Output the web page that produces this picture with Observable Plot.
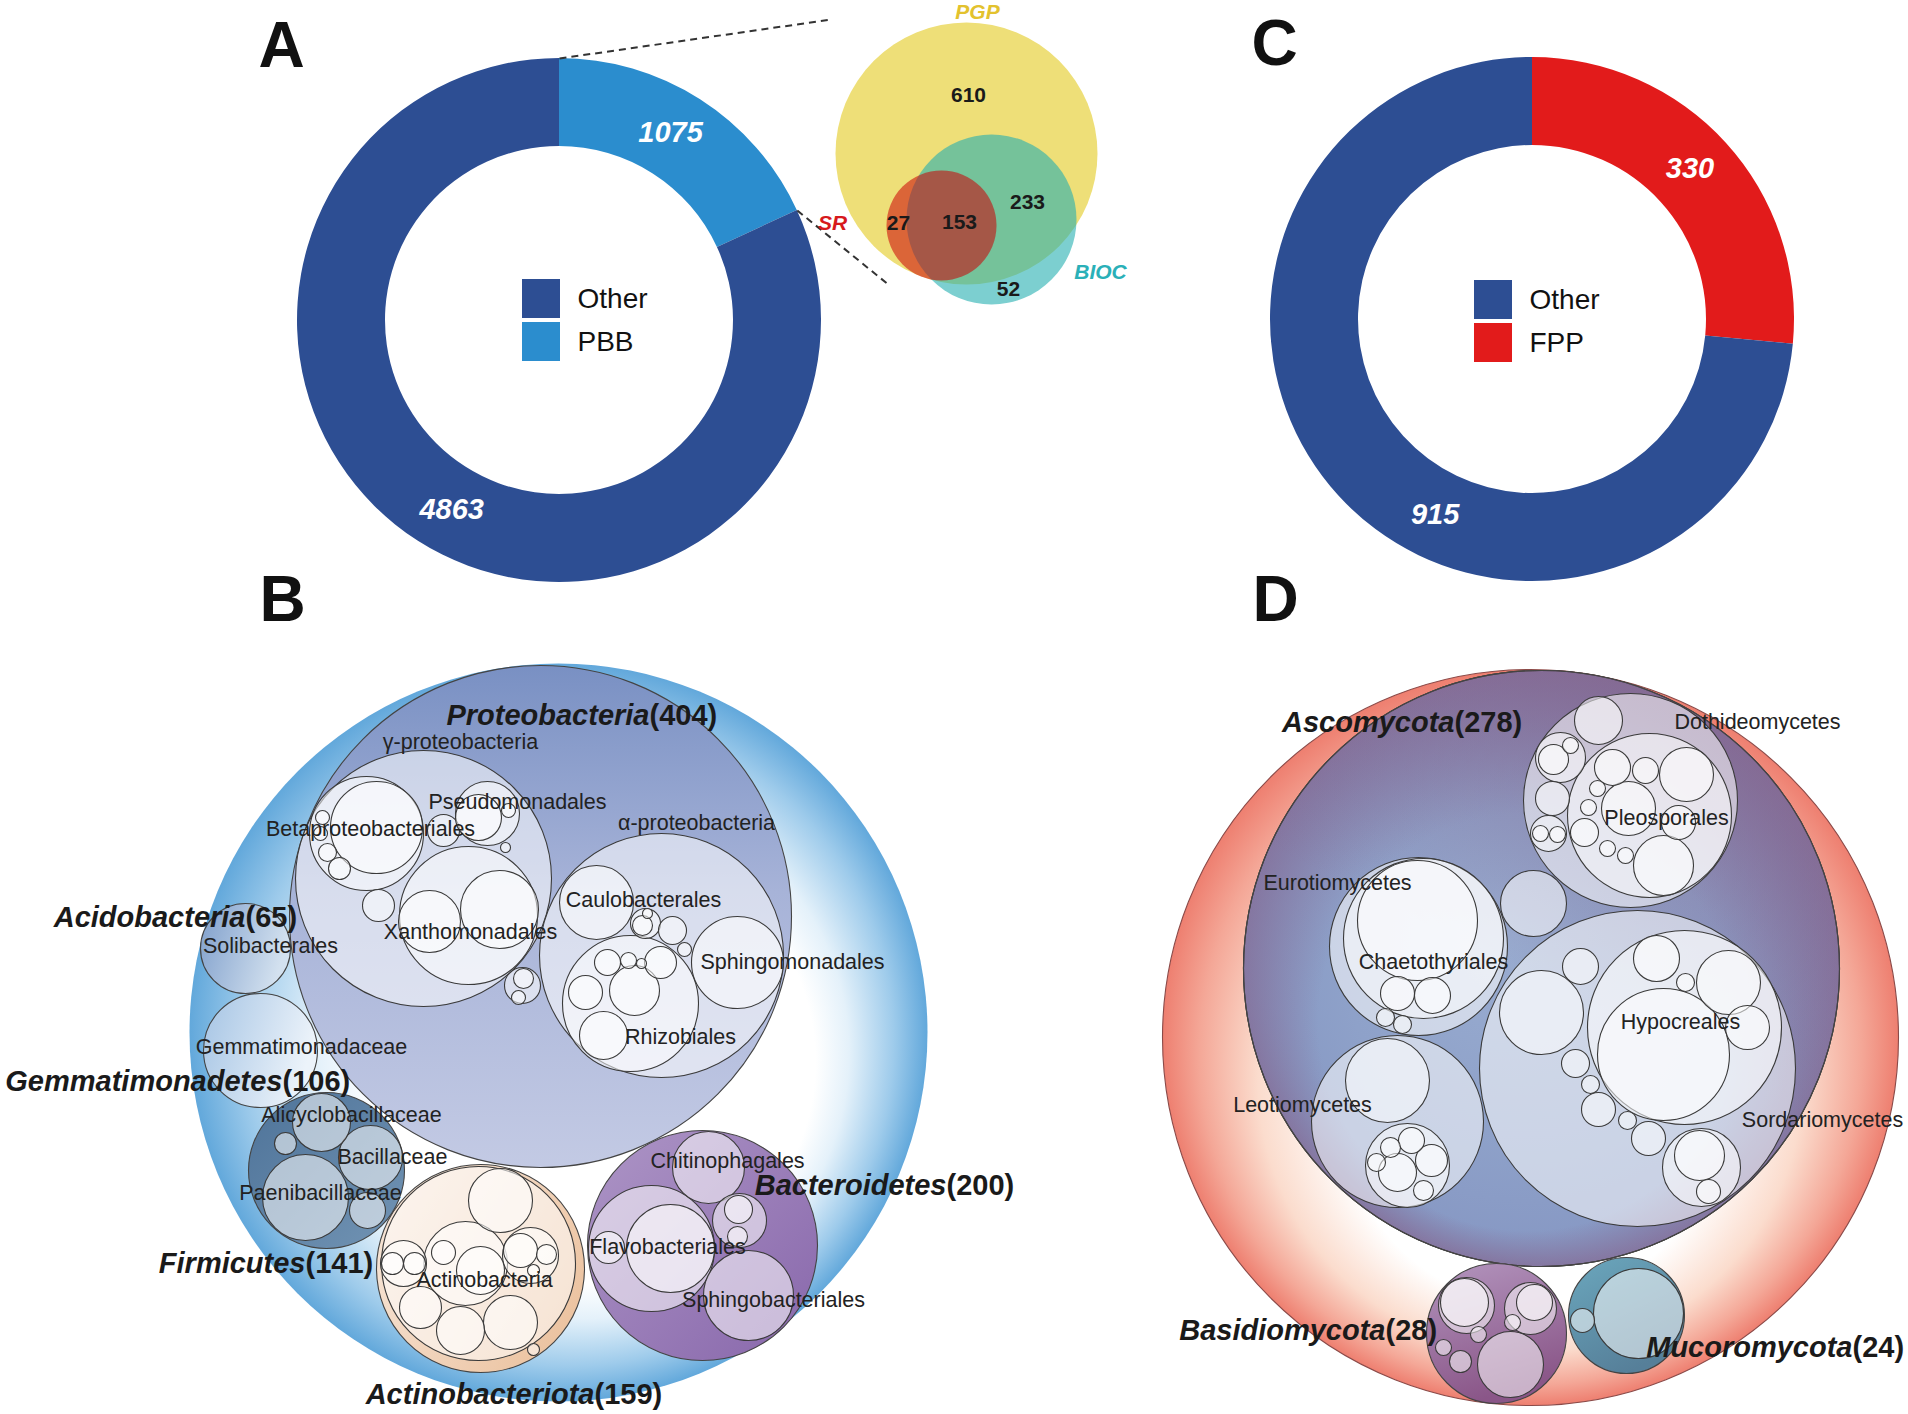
<!DOCTYPE html>
<html><head><meta charset="utf-8">
<script src="https://cdn.jsdelivr.net/npm/d3@7"></script>
<script src="https://cdn.jsdelivr.net/npm/@observablehq/plot@0.6"></script>
<style>html,body{margin:0;padding:0;background:#fff}#chart svg{display:block}</style>
</head><body><div id="chart"></div>
<script>
// ================= DATA =================
// Donut A
const donutACategories = ["PBB", "Other"];
const donutAValues = [1075, 4863];
// Donut C
const donutCCategories = ["FPP", "Other"];
const donutCValues = [330, 915];
const legendOrderA = ["Other", "PBB"];
const legendOrderC = ["Other", "FPP"];

// Venn (sets and region counts)
const vennSets = ["PGP", "BIOC", "SR"];
const vennCircleX = [966, 991, 941];
const vennCircleY = [153, 219, 225];
const vennCircleR = [131, 85, 55];
const vennCounts = [610, 233, 27, 153, 52];
const vennCountX = [968, 1027, 898, 959, 1008];
const vennCountY = [95, 202, 223, 222, 289];
const vennSetLabelX = [977, 1100, 832];
const vennSetLabelY = [12, 272, 223];
const vennLinkEnds = [[831, 19], [889, 285]];

// Circle packing B (bacteria): [name, depth, x, y, r]
const bacteriaNodes = [
  ["Bacteria", 0, 558, 1032, 369],
  ["Proteobacteria", 1, 540, 916, 251],
  ["Acidobacteria", 1, 245, 948, 45],
  ["Gemmatimonadetes", 1, 260, 1050, 57],
  ["Firmicutes", 1, 326, 1170, 78],
  ["Actinobacteriota", 1, 480, 1268, 104],
  ["Bacteroidetes", 1, 702, 1245, 115],
  ["γ-proteobacteria", 2, 423, 878, 128],
  ["α-proteobacteria", 2, 661, 955, 122],
  ["", 2, 522, 985, 18],
  ["Actinobacteria", 2, 478, 1263, 97],
  ["", 2, 533, 1349, 6],
  ["Chitinophagales", 2, 708, 1167, 36],
  ["Flavobacteriales", 2, 651, 1248, 63],
  ["", 2, 739, 1220, 27],
  ["Sphingobacteriales", 2, 748, 1295, 45],
  ["Alicyclobacillaceae", 2, 321, 1122, 29],
  ["", 2, 285, 1143, 11],
  ["Bacillaceae", 2, 370, 1157, 32],
  ["Paenibacillaceae", 2, 305, 1197, 43],
  ["", 2, 367, 1210, 18],
  ["Betaproteobacteriales", 3, 366, 833, 57],
  ["Pseudomonadales", 3, 487, 813, 32],
  ["", 3, 443, 830, 16],
  ["Xanthomonadales", 3, 468, 915, 69],
  ["", 3, 378, 905, 16],
  ["", 3, 505, 847, 5],
  ["", 3, 523, 978, 10],
  ["", 3, 518, 997, 7],
  ["Caulobacterales", 3, 596, 902, 37],
  ["", 3, 645, 923, 15],
  ["", 3, 672, 930, 14],
  ["", 3, 684, 949, 7],
  ["Sphingomonadales", 3, 737, 962, 46],
  ["Rhizobiales", 3, 630, 1003, 68],
  ["", 3, 500, 1200, 32],
  ["", 3, 465, 1263, 42],
  ["", 3, 403, 1263, 23],
  ["", 3, 530, 1255, 28],
  ["", 3, 420, 1307, 21],
  ["", 3, 460, 1330, 24],
  ["", 3, 510, 1322, 27],
  ["", 3, 670, 1248, 44],
  ["", 3, 608, 1247, 16],
  ["", 3, 738, 1209, 14],
  ["", 3, 737, 1236, 10],
  ["", 4, 376, 827, 46],
  ["", 4, 322, 817, 7],
  ["", 4, 320, 833, 7],
  ["", 4, 327, 852, 9],
  ["", 4, 339, 868, 11],
  ["", 4, 478, 817, 23],
  ["", 4, 508, 810, 7],
  ["", 4, 499, 909, 39],
  ["", 4, 429, 921, 31],
  ["", 4, 642, 925, 10],
  ["", 4, 647, 913, 5],
  ["", 4, 607, 962, 13],
  ["", 4, 628, 960, 8],
  ["", 4, 641, 963, 5],
  ["", 4, 660, 962, 16],
  ["", 4, 585, 992, 17],
  ["", 4, 634, 990, 25],
  ["", 4, 603, 1035, 24],
  ["", 4, 480, 1270, 24],
  ["", 4, 443, 1252, 12],
  ["", 4, 392, 1263, 11],
  ["", 4, 414, 1263, 11],
  ["", 4, 520, 1250, 17],
  ["", 4, 546, 1254, 10],
  ["", 4, 533, 1270, 6]
];
// phylum labels B: [name, count, x (junction), y]
const bacteriaPhylumLabels = [
  ["Proteobacteria", 404, 649, 715],
  ["Acidobacteria", 65, 245, 917],
  ["Gemmatimonadetes", 106, 282, 1081],
  ["Firmicutes", 141, 305, 1263],
  ["Actinobacteriota", 159, 594, 1394],
  ["Bacteroidetes", 200, 946, 1185]
];
const bacteriaTaxonLabels = [
  ["γ-proteobacteria", 460, 742],
  ["Pseudomonadales", 517, 802],
  ["Betaproteobacteriales", 370, 829],
  ["α-proteobacteria", 696, 823],
  ["Xanthomonadales", 470, 932],
  ["Caulobacterales", 643, 900],
  ["Sphingomonadales", 792, 962],
  ["Rhizobiales", 680, 1037],
  ["Solibacterales", 270, 946],
  ["Gemmatimonadaceae", 301, 1047],
  ["Alicyclobacillaceae", 351, 1115],
  ["Bacillaceae", 392, 1157],
  ["Paenibacillaceae", 320, 1193],
  ["Actinobacteria", 484, 1280],
  ["Chitinophagales", 727, 1161],
  ["Flavobacteriales", 667, 1247],
  ["Sphingobacteriales", 773, 1300]
];

// Circle packing D (fungi): [name, depth, x, y, r]
const fungiNodes = [
  ["Fungi", 0, 1530, 1037, 368],
  ["Ascomycota", 1, 1541, 968, 298],
  ["Basidiomycota", 1, 1496, 1333, 70],
  ["Mucoromycota", 1, 1626, 1315, 58],
  ["Dothideomycetes", 2, 1630, 800, 107],
  ["Eurotiomycetes", 2, 1418, 946, 89],
  ["Sordariomycetes", 2, 1637, 1068, 158],
  ["Leotiomycetes", 2, 1397, 1121, 86],
  ["", 2, 1533, 903, 33],
  ["", 2, 1466, 1305, 28],
  ["", 2, 1530, 1308, 26],
  ["", 2, 1512, 1322, 8],
  ["", 2, 1478, 1334, 8],
  ["", 2, 1443, 1347, 8],
  ["", 2, 1460, 1361, 11],
  ["", 2, 1510, 1364, 33],
  ["", 2, 1638, 1313, 45],
  ["", 2, 1582, 1320, 12],
  ["Pleosporales", 3, 1649, 815, 82],
  ["", 3, 1560, 757, 25],
  ["", 3, 1598, 720, 24],
  ["", 3, 1552, 798, 17],
  ["", 3, 1548, 833, 18],
  ["Chaetothyriales", 3, 1423, 938, 80],
  ["", 3, 1385, 1017, 9],
  ["", 3, 1402, 1024, 9],
  ["Hypocreales", 3, 1684, 1027, 97],
  ["", 3, 1541, 1012, 42],
  ["", 3, 1580, 966, 18],
  ["", 3, 1575, 1063, 14],
  ["", 3, 1590, 1084, 9],
  ["", 3, 1598, 1109, 17],
  ["", 3, 1627, 1120, 9],
  ["", 3, 1648, 1138, 17],
  ["", 3, 1701, 1167, 39],
  ["", 3, 1387, 1080, 42],
  ["", 3, 1407, 1165, 42],
  ["", 3, 1464, 1302, 24],
  ["", 3, 1534, 1302, 18],
  ["", 4, 1553, 759, 15],
  ["", 4, 1570, 745, 8],
  ["", 4, 1540, 833, 8],
  ["", 4, 1557, 834, 8],
  ["", 4, 1612, 767, 18],
  ["", 4, 1645, 770, 13],
  ["", 4, 1686, 774, 27],
  ["", 4, 1597, 788, 8],
  ["", 4, 1588, 807, 8],
  ["", 4, 1628, 808, 27],
  ["", 4, 1678, 822, 17],
  ["", 4, 1584, 832, 14],
  ["", 4, 1607, 848, 8],
  ["", 4, 1625, 855, 8],
  ["", 4, 1663, 865, 30],
  ["", 4, 1417, 920, 60],
  ["", 4, 1397, 993, 17],
  ["", 4, 1432, 995, 18],
  ["", 4, 1663, 1054, 66],
  ["", 4, 1656, 958, 23],
  ["", 4, 1728, 982, 32],
  ["", 4, 1685, 982, 9],
  ["", 4, 1747, 1027, 22],
  ["", 4, 1699, 1155, 25],
  ["", 4, 1708, 1191, 12],
  ["", 4, 1411, 1140, 13],
  ["", 4, 1390, 1147, 10],
  ["", 4, 1431, 1160, 16],
  ["", 4, 1376, 1162, 9],
  ["", 4, 1397, 1172, 19],
  ["", 4, 1423, 1190, 10]
];
const fungiPhylumLabels = [
  ["Ascomycota", 278, 1454, 722],
  ["Basidiomycota", 28, 1385, 1330],
  ["Mucoromycota", 24, 1852, 1347]
];
const fungiTaxonLabels = [
  ["Dothideomycetes", 1757, 722],
  ["Pleosporales", 1666, 818],
  ["Eurotiomycetes", 1337, 883],
  ["Chaetothyriales", 1433, 962],
  ["Hypocreales", 1680, 1022],
  ["Leotiomycetes", 1302, 1105],
  ["Sordariomycetes", 1822, 1120]
];
const panelLetters = [["A", 281, 46], ["B", 282, 600], ["C", 1274, 44], ["D", 1275, 600]];

// ================= STYLE / LAYOUT =================
const FONT = "Liberation Sans, Arial, Helvetica, sans-serif";
const sliceColors = {Other: "#2D4E93", PBB: "#2B8DCE", FPP: "#E21B1B"};
const donutA = {cx: 559, cy: 320, labelFrac: [0.47, 0.49], legend: [522, 279]};
const donutC = {cx: 1532, cy: 319, labelFrac: [0.485, 0.42], legend: [1474, 280]};
const R_OUT = 262, R_IN = 174;
const vennStyle = {
  PGP: {fill: "#EEDF78", op: 1, text: "#E3C22E"},
  BIOC: {fill: "#25AFB1", op: 0.6, text: "#2AB0B8"},
  SR: {fill: "#CC0004", op: 0.55, text: "#D7191C"}
};
const phylumFill = {
  Bacteria: "url(#gB)", Proteobacteria: "url(#gProteo)", Acidobacteria: "url(#gAcido)",
  Gemmatimonadetes: "url(#gGemma)", Firmicutes: "url(#gFirmi)", Actinobacteriota: "url(#gActino)",
  Bacteroidetes: "url(#gBactero)", Fungi: "url(#gF)", Ascomycota: "url(#gAsco)",
  Basidiomycota: "url(#gBasidio)", Mucoromycota: "url(#gMucoro)"
};
const ascoOverlays = ["url(#gAscoOver)", "url(#gAscoTop)"];

// ================= HELPERS =================
function defsMark() {
  return () => {
    const defs = d3.create("svg:defs");
    const radial = (id, o, stops) => {
      const g = defs.append("radialGradient").attr("id", id)
        .attr("cx", o.cx ?? 0.5).attr("cy", o.cy ?? 0.5).attr("r", o.r ?? 0.5)
        .attr("fx", o.fx ?? 0.5).attr("fy", o.fy ?? 0.5);
      stops.forEach(([off, c, op = 1]) => g.append("stop").attr("offset", off).attr("stop-color", c).attr("stop-opacity", op));
    };
    const linear = (id, [x1, y1, x2, y2], stops) => {
      const g = defs.append("linearGradient").attr("id", id)
        .attr("x1", x1).attr("y1", y1).attr("x2", x2).attr("y2", y2);
      stops.forEach(([off, c, op = 1]) => g.append("stop").attr("offset", off).attr("stop-color", c).attr("stop-opacity", op));
    };
    radial("gB", {fx: 0.62, fy: 0.6}, [[0, "#ffffff"], [0.6, "#ffffff"], [0.72, "#E4F1FA"], [0.88, "#9ECBEB"], [1, "#62A8DB"]]);
    linear("gProteo", [0, 0, 0, 1], [[0, "#7990C3"], [0.45, "#A7B3D8"], [1, "#C3CAE4"]]);
    linear("gAcido", [0, 0, 1, 0.3], [[0, "#7E9ECB"], [1, "#D3E1EF"]]);
    linear("gGemma", [0, 0, 1, 0.3], [[0, "#A5C4E4"], [1, "#ECF3FA"]]);
    linear("gFirmi", [0, 0, 1, 1], [[0, "#4E7399"], [1, "#7294B4"]]);
    linear("gActino", [0, 0, 1, 0.6], [[0, "#F8E9DD"], [1, "#ECC4A2"]]);
    linear("gBactero", [0, 0, 1, 1], [[0, "#AD95C6"], [1, "#8867AB"]]);
    radial("gF", {fx: 0.5, fy: 0.72}, [[0, "#ffffff"], [0.5, "#ffffff"], [0.74, "#FBDCCD"], [0.9, "#F4A797"], [1, "#EE7F70"]]);
    radial("gAsco", {fx: 0.42, fy: 0.45}, [[0, "#99ACD0"], [0.6, "#8EA1C9"], [1, "#8697C3"]]);
    radial("gAscoOver", {fx: 0.42, fy: 0.8}, [[0, "#84618A", 0], [0.7, "#84618A", 0], [1, "#84618A", 0.6]]);
    linear("gAscoTop", [0.7, 0, 0.45, 0.5], [[0, "#84618A", 0.6], [1, "#84618A", 0]]);
    linear("gBasidio", [0, 0, 0.3, 1], [[0, "#B395BE"], [1, "#8A5688"]]);
    linear("gMucoro", [0, 0, 0.5, 1], [[0, "#6BA7BD"], [1, "#567F99"]]);
    return defs.node();
  };
}

function donutMark(cfg, vals, cats) {
  return (index, {x, y}) => {
    const R = x(cfg.cx + R_OUT) - x(cfg.cx);
    const r0 = x(cfg.cx + R_IN) - x(cfg.cx);
    const arcs = d3.pie().sort(null)(vals);
    const g = d3.create("svg:g").attr("transform", `translate(${x(cfg.cx)},${y(cfg.cy)})`);
    g.selectAll("path").data(arcs).join("path")
      .attr("d", d3.arc().innerRadius(r0).outerRadius(R))
      .attr("fill", (d, i) => sliceColors[cats[i]]);
    return g.node();
  };
}
function donutLabels(cfg, vals) {
  const arcs = d3.pie().sort(null)(vals);
  const rm = (R_OUT + R_IN) / 2;
  return arcs.map((a, i) => {
    const ang = a.startAngle + cfg.labelFrac[i] * (a.endAngle - a.startAngle);
    return {text: String(a.value), x: cfg.cx + rm * Math.sin(ang), y: cfg.cy - rm * Math.cos(ang)};
  });
}
function legendRows(cfg, order) {
  return order.map((c, i) => ({cat: c, x1: cfg.legend[0], x2: cfg.legend[0] + 38,
    y1: cfg.legend[1] + i * 43, y2: cfg.legend[1] + i * 43 + 39}));
}
const arcsA = d3.pie().sort(null)(donutAValues);
const linkStarts = [arcsA[0].startAngle, arcsA[0].endAngle].map(a => [donutA.cx + R_OUT * Math.sin(a), donutA.cy - R_OUT * Math.cos(a)]);
const linkData = linkStarts.map((s, i) => ({x1: s[0], y1: s[1], x2: vennLinkEnds[i][0], y2: vennLinkEnds[i][1]}));

function packMarks(nodes) {
  const sorted = nodes.slice().sort((a, b) => a[1] - b[1] || b[4] - a[4]);
  const marks = [];
  sorted.filter(d => d[1] <= 1).forEach(d => {
    marks.push(Plot.dot([d], {x: d => d[2], y: d => d[3], r: d => d[4], fill: phylumFill[d[0]],
      stroke: d[1] === 0 ? (d[0] === "Fungi" ? "#8B4A48" : "none") : "#444", strokeWidth: 1.1}));
    if (d[0] === "Ascomycota") ascoOverlays.forEach(f => marks.push(Plot.dot([d], {x: d => d[2], y: d => d[3], r: d => d[4], fill: f, stroke: "#444", strokeWidth: 1.1})));
  });
  marks.push(Plot.dot(sorted.filter(d => d[1] >= 2), {x: d => d[2], y: d => d[3], r: d => d[4],
    fill: "white", fillOpacity: 0.55, stroke: "#3a3a3a", strokeWidth: 1.1, sort: null}));
  return marks;
}
function phylumLabelMarks(labels) {
  return [
    Plot.text(labels, {x: d => d[2], y: d => d[3], text: d => d[0], textAnchor: "end",
      fontStyle: "italic", fontWeight: "bold", fontSize: 29, fill: "#1a1a1a", fontFamily: FONT}),
    Plot.text(labels, {x: d => d[2], y: d => d[3], text: d => `(${d[1]})`, textAnchor: "start",
      fontWeight: "bold", fontSize: 29, fill: "#1a1a1a", fontFamily: FONT})
  ];
}
function taxonLabelMark(labels) {
  return Plot.text(labels, {x: d => d[1], y: d => d[2], text: d => d[0], fontSize: 21.5,
    fill: "#222", fontFamily: FONT});
}

// ================= PLOT =================
const vennIdx = vennSets.map((_, i) => i);
const fig = Plot.plot({
  width: 1908, height: 1414, margin: 0,
  x: {domain: [0, 1908], range: [0, 1908], axis: null},
  y: {domain: [0, 1414], range: [0, 1414], axis: null},
  r: {type: "linear", domain: [0, 400], range: [0, 400]},
  style: {fontFamily: FONT, background: "white", overflow: "visible"},
  marks: [
    defsMark(),
    donutMark(donutA, donutAValues, donutACategories),
    donutMark(donutC, donutCValues, donutCCategories),
    Plot.text([...donutLabels(donutA, donutAValues), ...donutLabels(donutC, donutCValues)],
      {x: "x", y: "y", text: "text", fill: "white", fontSize: 29, fontWeight: "bold", fontStyle: "italic", fontFamily: FONT}),
    Plot.rect([...legendRows(donutA, legendOrderA), ...legendRows(donutC, legendOrderC)],
      {x1: "x1", x2: "x2", y1: "y1", y2: "y2", fill: d => sliceColors[d.cat], inset: 0}),
    Plot.text([...legendRows(donutA, legendOrderA), ...legendRows(donutC, legendOrderC)],
      {x: d => d.x1 + 55, y: d => (d.y1 + d.y2) / 2, text: "cat", textAnchor: "start", fontSize: 28, fill: "#111", fontFamily: FONT}),
    Plot.link(linkData, {x1: "x1", y1: "y1", x2: "x2", y2: "y2", stroke: "#333", strokeWidth: 2, strokeDasharray: "7,5"}),
    ...vennIdx.map(i => Plot.dot([i], {x: i => vennCircleX[i], y: i => vennCircleY[i], r: i => vennCircleR[i],
      fill: vennStyle[vennSets[i]].fill, fillOpacity: vennStyle[vennSets[i]].op, stroke: "none"})),
    Plot.text(vennCounts.map((c, i) => i), {x: i => vennCountX[i], y: i => vennCountY[i], text: i => String(vennCounts[i]),
      fontSize: 21, fontWeight: "bold", fill: "#1a1a1a", fontFamily: FONT}),
    Plot.text(vennIdx, {x: i => vennSetLabelX[i], y: i => vennSetLabelY[i], text: i => vennSets[i],
      fill: i => vennStyle[vennSets[i]].text, fontSize: 21, fontWeight: "bold", fontStyle: "italic", fontFamily: FONT}),
    ...packMarks(bacteriaNodes),
    ...packMarks(fungiNodes),
    taxonLabelMark(bacteriaTaxonLabels),
    taxonLabelMark(fungiTaxonLabels),
    ...phylumLabelMarks(bacteriaPhylumLabels),
    ...phylumLabelMarks(fungiPhylumLabels),
    Plot.text(panelLetters, {x: d => d[1], y: d => d[2], text: d => d[0], fontSize: 64, fontWeight: "bold", fill: "#111", fontFamily: FONT})
  ]
});
document.getElementById("chart").append(fig);
</script>
</body></html>
